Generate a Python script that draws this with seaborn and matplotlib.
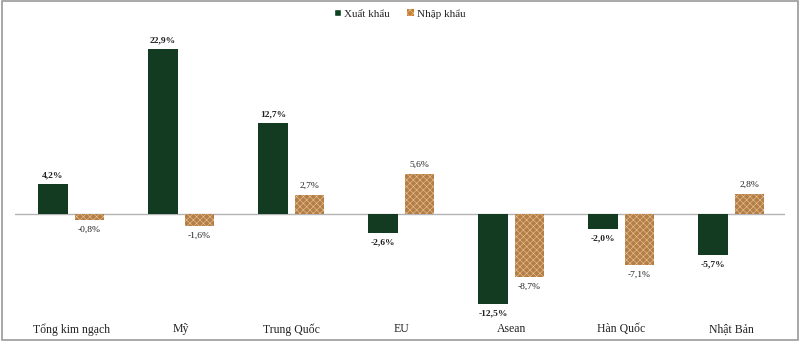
import matplotlib
matplotlib.use("Agg")
import matplotlib.pyplot as plt
import seaborn as sns
import pandas as pd

categories = ["Tổng kim ngạch", "Mỹ", "Trung Quốc", "EU", "Asean", "Hàn Quốc", "Nhật Bản"]
xuat_khau = [4.2, 22.9, 12.7, -2.6, -12.5, -2.0, -5.7]
nhap_khau = [-0.8, -1.6, 2.7, 5.6, -8.7, -7.1, 2.8]
series = ["Xuất khẩu", "Nhập khẩu"]

sns.set_theme(style="white")
plt.rcParams["font.family"] = ["Liberation Serif", "DejaVu Serif"]
plt.rcParams["hatch.linewidth"] = 0.4

df = pd.DataFrame({
    "cat": categories * 2,
    "series": [series[0]] * len(categories) + [series[1]] * len(categories),
    "val": xuat_khau + nhap_khau,
})

green = "#0b4220"
orange = "#c67f34"
dots = "#eac69a"

fig = plt.figure(figsize=(8.0, 3.41), dpi=100)
ax = fig.add_axes([15 / 800, 26 / 341, 770 / 800, 285 / 341])

sns.barplot(data=df, x="cat", y="val", hue="series", palette=[green, orange],
            width=0.66, gap=0.19, ax=ax, legend=False, edgecolor="none")

for patch in ax.containers[1]:
    patch.set_hatch("xxxxx")
    patch.set_edgecolor(dots)
    patch.set_linewidth(0)

ax.set_xlim(-0.51, 6.49)
ax.set_ylim(-14.0, 25.6)
ax.axhline(0, color="#b3b3b3", lw=1.0, zorder=0)

for cont, bold in zip(ax.containers, [True, False]):
    for patch, v in zip(cont, cont.datavalues):
        xc = patch.get_x() + patch.get_width() / 2
        label = f"{v:.1f}%".replace(".", ",")
        off = 3.5 if v >= 0 else -4
        ax.annotate(label, (xc, v), xytext=(0, off), textcoords="offset points",
                    ha="center", va="bottom" if v >= 0 else "top",
                    fontsize=6.8, fontweight="bold" if bold else "normal", color="#222222")

ax.set_xlabel("")
ax.set_ylabel("")
ax.set_yticks([])
ax.set_xticks(range(len(categories)))
ax.set_xticklabels(categories, fontsize=8.5, color="#222222")
ax.tick_params(axis="x", length=0, pad=6)
for s in ax.spines.values():
    s.set_visible(False)

handles = [plt.Rectangle((0, 0), 1, 1, facecolor=green),
           plt.Rectangle((0, 0), 1, 1, facecolor=orange, hatch="xxxxx", edgecolor=dots, linewidth=0)]
fig.legend(handles, series, loc="center", bbox_to_anchor=(0.5, 1 - 14 / 341),
           ncol=2, frameon=False, fontsize=8, handlelength=0.6, handleheight=0.6,
           columnspacing=1.6, handletextpad=0.3)

fig.patches.append(plt.Rectangle((0.002, 0.003), 0.996, 0.994, transform=fig.transFigure,
                                 fill=False, edgecolor="#9a9a9a", lw=1.2))

fig.savefig("out.png", dpi=100, facecolor="white")
